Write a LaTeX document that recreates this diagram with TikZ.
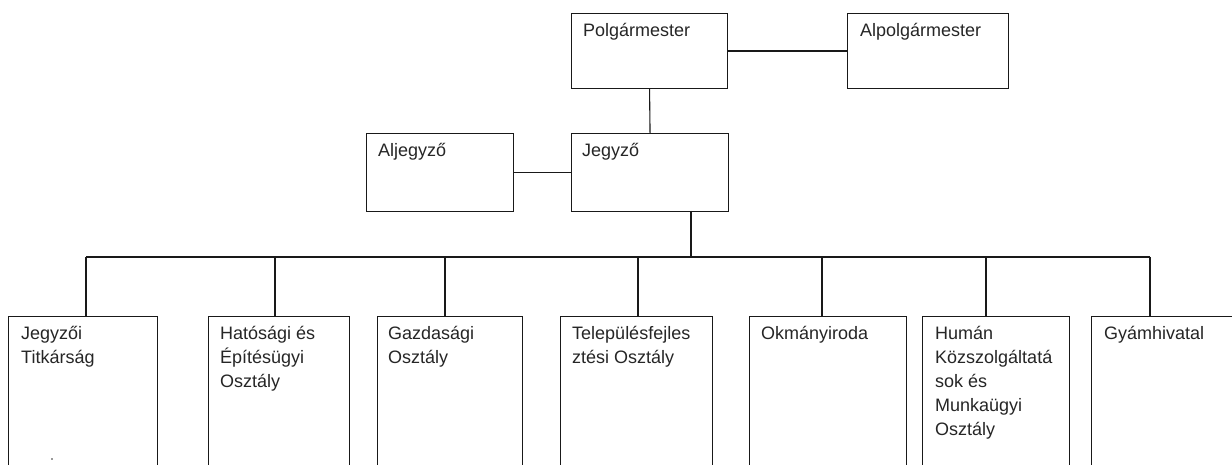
\documentclass[tikz,border=0pt]{standalone}
\usepackage{fontspec}
\setmainfont{Liberation Sans}
\usetikzlibrary{calc}
\tikzset{
  box/.style={draw=black!90, line width=1.1pt, rectangle, inner sep=0pt, anchor=north west},
  lbl/.style={anchor=north west, inner sep=0pt, align=left, text=black!85,
              font=\fontsize{18}{24}\selectfont},
  conn/.style={draw=black!90, line width=1.1pt}
}
\begin{document}
\begin{tikzpicture}[x=1pt,y=-1pt]
\clip (0,0) rectangle (1232,465);
\fill[white] (0,0) rectangle (1232,465);
% top level
\node[box, minimum width=156pt, minimum height=75pt] (P) at (571,13) {};
\node[box, minimum width=161pt, minimum height=75pt] (A) at (847,13) {};
\node[box, minimum width=147pt, minimum height=78pt] (AJ) at (366,133) {};
\node[box, minimum width=157pt, minimum height=78pt] (J) at (571,133) {};
% bottom level
\node[box, minimum width=149pt, minimum height=200pt] (B1) at (8,316) {};
\node[box, minimum width=141pt, minimum height=200pt] (B2) at (208,316) {};
\node[box, minimum width=145pt, minimum height=200pt] (B3) at (377,316) {};
\node[box, minimum width=152pt, minimum height=200pt] (B4) at (560,316) {};
\node[box, minimum width=157pt, minimum height=200pt] (B5) at (749,316) {};
\node[box, minimum width=147pt, minimum height=200pt] (B6) at (922,316) {};
\node[box, minimum width=170pt, minimum height=200pt] (B7) at (1091,316) {};
% labels
\node[lbl] at ($(P.north west)+(12,10)$) {Polgármester};
\node[lbl] at ($(A.north west)+(13,10)$) {Alpolgármester};
\node[lbl] at ($(AJ.north west)+(12,10)$) {Aljegyző};
\node[lbl] at ($(J.north west)+(11,10)$) {Jegyző};
\node[lbl] at ($(B1.north west)+(13,10)$) {Jegyzői\\Titkárság};
\node[lbl] at ($(B2.north west)+(12,10)$) {Hatósági és\\Építésügyi\\Osztály};
\node[lbl] at ($(B3.north west)+(11,10)$) {Gazdasági\\Osztály};
\node[lbl] at ($(B4.north west)+(12,10)$) {Településfejles\\ztési Osztály};
\node[lbl] at ($(B5.north west)+(12,10)$) {Okmányiroda};
\node[lbl] at ($(B6.north west)+(13,10)$) {Humán\\Közszolgáltatá\\sok és\\Munkaügyi\\Osztály};
\node[lbl] at ($(B7.north west)+(13,10)$) {Gyámhivatal};
% connectors
\draw[conn] (P.east) -- (A.west);
\draw[conn] (P.south) -- (J.north);
\draw[conn] (AJ.east) -- (J.west);
\coordinate (jb) at (691,211);
\coordinate (bus) at (691,257);
\draw[conn] (jb) -- (bus);
\coordinate (d1) at (86,316);
\coordinate (d2) at (275,316);
\coordinate (d3) at (445,316);
\coordinate (d4) at (638,316);
\coordinate (d5) at (822,316);
\coordinate (d6) at (986,316);
\coordinate (d7) at (1150,316);
\draw[conn] (d1 |- bus) -- (d7 |- bus);
\foreach \d in {d1,d2,d3,d4,d5,d6,d7} {
  \draw[conn] (\d |- bus) -- (\d);
}
\fill[black!80] (52,459) circle (0.8);
\end{tikzpicture}
\end{document}
